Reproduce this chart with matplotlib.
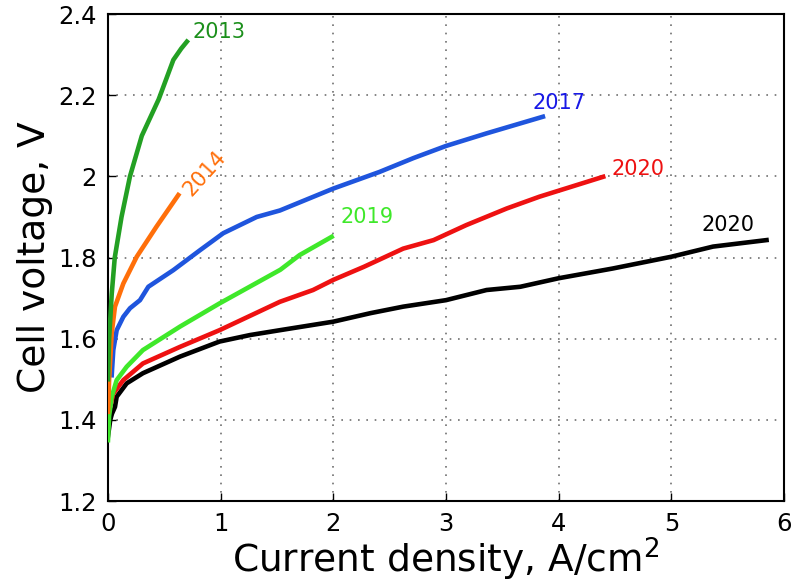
import matplotlib
matplotlib.use("Agg")
import matplotlib.pyplot as plt
from matplotlib.ticker import FuncFormatter

# current density (A/cm2) and cell voltage (V)
x_2013 = [0.0, 0.01, 0.033, 0.06, 0.12, 0.195, 0.30, 0.45, 0.58, 0.65, 0.70]
v_2013 = [1.50, 1.60, 1.71, 1.80, 1.90, 2.00, 2.10, 2.19, 2.287, 2.315, 2.332]

x_2014 = [0.0, 0.01, 0.033, 0.062, 0.136, 0.255, 0.43, 0.624]
v_2014 = [1.42, 1.50, 1.614, 1.679, 1.736, 1.802, 1.876, 1.954]

x_2017 = [0.033, 0.047, 0.077, 0.136, 0.195, 0.284, 0.358, 0.58, 0.816, 1.023,
          1.32, 1.526, 2.0, 2.41, 2.71, 3.0, 3.36, 3.86]
v_2017 = [1.51, 1.572, 1.621, 1.654, 1.675, 1.695, 1.728, 1.769, 1.818, 1.86,
          1.90, 1.916, 1.97, 2.011, 2.045, 2.075, 2.106, 2.147]

x_2019 = [0.0, 0.01, 0.033, 0.077, 0.166, 0.31, 0.64, 0.99, 1.53, 1.70, 1.985]
v_2019 = [1.35, 1.41, 1.457, 1.498, 1.531, 1.572, 1.63, 1.687, 1.77, 1.806, 1.851]

x_2020a = [0.0, 0.047, 0.136, 0.31, 0.64, 0.99, 1.526, 1.82, 2.0, 2.27, 2.62,
           2.89, 3.18, 3.54, 3.83, 4.395]
v_2020a = [1.41, 1.465, 1.498, 1.539, 1.58, 1.621, 1.691, 1.72, 1.745, 1.777, 1.822,
           1.843, 1.88, 1.921, 1.95, 1.999]

x_2020b = [0.0, 0.01, 0.02, 0.035, 0.062, 0.077, 0.166, 0.31, 0.64, 0.99, 1.26,
           1.526, 2.0, 2.33, 2.62, 3.0, 3.36, 3.66, 4.0, 4.48, 5.0, 5.37, 5.845]
v_2020b = [1.36, 1.38, 1.40, 1.415, 1.432, 1.457, 1.49, 1.515, 1.556, 1.593, 1.609,
           1.621, 1.642, 1.663, 1.679, 1.695, 1.72, 1.728, 1.749, 1.773, 1.802, 1.827, 1.843]

xticks = [0, 1, 2, 3, 4, 5, 6]
yticks = [1.2, 1.4, 1.6, 1.8, 2.0, 2.2, 2.4]

fig = plt.figure(figsize=(8, 5.86), dpi=100)
ax = fig.add_axes([0.135, 0.145, 0.845, 0.831])

lw = 3.3
ax.plot(x_2020b, v_2020b, color="black", lw=lw, zorder=3)
ax.plot(x_2020a, v_2020a, color="#ee1111", lw=lw, zorder=3)
ax.plot(x_2019, v_2019, color="#3fe82a", lw=lw, zorder=3)
ax.plot(x_2017, v_2017, color="#1f55dd", lw=lw, zorder=3)
ax.plot(x_2014, v_2014, color="#ff6f0a", lw=lw, zorder=3)
ax.plot(x_2013, v_2013, color="#23a023", lw=lw, zorder=3)

fs = 15
ax.text(0.75, 2.355, "2013", color="#1b8f1b", fontsize=fs, ha="left", va="center")
ax.text(0.86, 2.008, "2014", color="#ff6f0a", fontsize=fs, ha="center", va="center",
        rotation=48)
ax.text(4.0, 2.18, "2017", color="#1818e6", fontsize=fs, ha="center", va="center")
ax.text(2.30, 1.90, "2019", color="#3fe82a", fontsize=fs, ha="center", va="center")
ax.text(4.70, 2.019, "2020", color="#ee1111", fontsize=fs, ha="center", va="center")
ax.text(5.50, 1.88, "2020", color="black", fontsize=fs, ha="center", va="center")

ax.set_xlim(0, 6)
ax.set_ylim(1.2, 2.4)
ax.set_xticks(xticks)
ax.set_yticks(yticks)
ax.yaxis.set_major_formatter(FuncFormatter(lambda v, p: f"{v:g}"))
ax.tick_params(direction="in", length=6, width=1, labelsize=17.5, pad=8)
ax.grid(True, linestyle=(0, (1, 4)), color="#707070", lw=1.2)
for s in ax.spines.values():
    s.set_linewidth(1.5)

ax.set_xlabel("Current density, A/cm$^2$", fontsize=27, labelpad=0)
ax.set_ylabel("Cell voltage, V", fontsize=27, labelpad=4)

fig.savefig("out.png", dpi=100, facecolor="white")
